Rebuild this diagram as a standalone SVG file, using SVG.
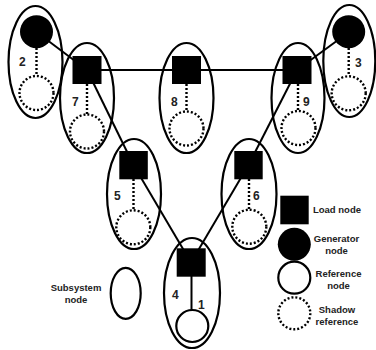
<svg xmlns="http://www.w3.org/2000/svg" width="376" height="350" viewBox="0 0 376 350">
<style>
.ell{fill:none;stroke:#000;stroke-width:2.2}
.load{fill:#000}
.gen{fill:#000}
.ref{fill:#fff;stroke:#000;stroke-width:2.2}
.shadow{fill:none;stroke:#000;stroke-width:2.4;stroke-dasharray:2 2}
.dline{stroke:#000;stroke-width:2.4;stroke-dasharray:2 2}
.conn{stroke:#000;stroke-width:2}
.lbl{font-family:"Liberation Sans",Arial,sans-serif;font-weight:bold;font-size:12px;fill:#222}
.leg{font-family:"Liberation Sans",Arial,sans-serif;font-weight:bold;font-size:9.5px;fill:#222;text-anchor:middle}
</style>
<rect width="376" height="350" fill="#fff"/>
<g id="connectors">
<line class="conn" x1="36.5" y1="32" x2="87" y2="70"/>
<line class="conn" x1="87" y1="70" x2="297" y2="70"/>
<line class="conn" x1="349" y1="32" x2="297" y2="70"/>
<line class="conn" x1="87" y1="70" x2="133.5" y2="165"/>
<line class="conn" x1="297" y1="70" x2="248.5" y2="165"/>
<line class="conn" x1="133.5" y1="165" x2="191" y2="262.5"/>
<line class="conn" x1="248.5" y1="165" x2="191" y2="262.5"/>
</g>
<g id="node2">
<ellipse class="ell" cx="35.5" cy="62" rx="27" ry="56"/>
<circle class="gen" cx="36.5" cy="31.7" r="16.5"/>
<line class="dline" x1="36.5" y1="48" x2="36.5" y2="76"/>
<circle class="shadow" cx="36.5" cy="93" r="17"/>
<text class="lbl" x="19" y="66">2</text>
</g>
<g id="node7">
<ellipse class="ell" cx="87" cy="98" rx="27" ry="55"/>
<rect class="load" x="72.5" y="56" width="29" height="28"/>
<line class="dline" x1="87" y1="84" x2="87" y2="114"/>
<circle class="shadow" cx="87" cy="131.5" r="17"/>
<text class="lbl" x="72" y="106">7</text>
</g>
<g id="node8">
<ellipse class="ell" cx="186.5" cy="98" rx="27" ry="55"/>
<rect class="load" x="172" y="56" width="29" height="28"/>
<line class="dline" x1="186.5" y1="84" x2="186.5" y2="111"/>
<circle class="shadow" cx="186.5" cy="128.5" r="17"/>
<text class="lbl" x="171" y="106">8</text>
</g>
<g id="node9">
<ellipse class="ell" cx="298" cy="98" rx="26.5" ry="55"/>
<rect class="load" x="282.5" y="56" width="29" height="28"/>
<line class="dline" x1="298" y1="84" x2="298" y2="111"/>
<circle class="shadow" cx="298.5" cy="128" r="17"/>
<text class="lbl" x="303" y="106">9</text>
</g>
<g id="node3">
<ellipse class="ell" cx="349.3" cy="61" rx="26" ry="56"/>
<circle class="gen" cx="348.7" cy="31.7" r="16.5"/>
<line class="dline" x1="348.7" y1="48" x2="348.7" y2="76"/>
<circle class="shadow" cx="348.7" cy="93.3" r="17"/>
<text class="lbl" x="355" y="67">3</text>
</g>
<g id="node5">
<ellipse class="ell" cx="134" cy="194" rx="27" ry="55"/>
<rect class="load" x="119.3" y="151" width="28.5" height="28.3"/>
<line class="dline" x1="133.5" y1="179" x2="133.5" y2="210"/>
<circle class="shadow" cx="133.3" cy="227.3" r="17"/>
<text class="lbl" x="114" y="200">5</text>
</g>
<g id="node6">
<ellipse class="ell" cx="249" cy="194" rx="27.5" ry="55"/>
<rect class="load" x="234.3" y="151" width="28.4" height="28.3"/>
<line class="dline" x1="249" y1="179" x2="249" y2="210"/>
<circle class="shadow" cx="249.3" cy="226.7" r="17"/>
<text class="lbl" x="253" y="200">6</text>
</g>
<g id="node4">
<ellipse class="ell" cx="192" cy="293" rx="28" ry="55"/>
<rect class="load" x="176.7" y="248.3" width="29" height="28.4"/>
<line class="conn" x1="191.5" y1="276" x2="191.5" y2="310"/>
<circle class="ref" cx="192.3" cy="326" r="16"/>
<text class="lbl" x="172" y="299">4</text>
<text class="lbl" x="198" y="309">1</text>
</g>
<g id="legend-subsystem">
<ellipse class="ell" cx="125.7" cy="293.3" rx="15" ry="25.5"/>
<text class="leg" x="76" y="291">Subsystem</text>
<text class="leg" x="76" y="302.5">node</text>
</g>
<g id="legend-load">
<rect class="load" x="280.3" y="195.7" width="28.4" height="28.6"/>
<text class="leg" x="337" y="213">Load node</text>
</g>
<g id="legend-generator">
<circle class="gen" cx="294.3" cy="244.3" r="16.5"/>
<text class="leg" x="336.5" y="241.5">Generator</text>
<text class="leg" x="336.5" y="253.5">node</text>
</g>
<g id="legend-reference">
<circle class="ref" cx="294.3" cy="277.7" r="16"/>
<text class="leg" x="338.5" y="277">Reference</text>
<text class="leg" x="338.5" y="289">node</text>
</g>
<g id="legend-shadow">
<circle class="shadow" cx="294.3" cy="313.3" r="16"/>
<text class="leg" x="337" y="312.5">Shadow</text>
<text class="leg" x="337" y="324.5">reference</text>
</g>
</svg>
